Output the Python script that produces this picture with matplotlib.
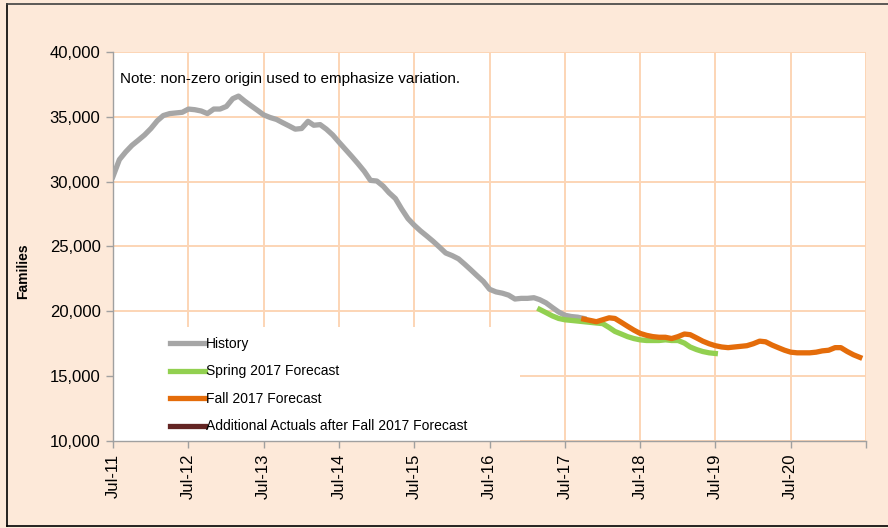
import numpy as np
import pandas as pd
import matplotlib
matplotlib.use("Agg")
import matplotlib.pyplot as plt
from matplotlib.patches import Rectangle
from matplotlib.lines import Line2D

plt.rcParams['font.family'] = ['Liberation Sans', 'DejaVu Sans']

# monthly caseload, Jul-2011 .. Oct-2017
history = [30400, 31700, 32300, 32800, 33200, 33600, 34100, 34700, 35100, 35250,
           35300, 35350, 35600, 35550, 35450, 35250, 35600, 35600, 35800, 36400,
           36600, 36200, 35850, 35500, 35150, 34950, 34800, 34550, 34300, 34050,
           34100, 34650, 34350, 34400, 34050, 33600, 33050, 32500, 31950, 31400,
           30800, 30100, 30050, 29650, 29150, 28700, 27900, 27150, 26650, 26200,
           25800, 25400, 24950, 24500, 24300, 24050, 23650, 23200, 22750, 22300,
           21700, 21500, 21400, 21250, 20950, 21000, 21000, 21050, 20900, 20650,
           20300, 19950, 19700, 19600, 19550, 19450]
history_start = "2011-07-01"

# Spring 2017 forecast, Mar-2017 .. Jul-2019
spring_2017 = [20150, 19900, 19650, 19450, 19350, 19300, 19250, 19200, 19150, 19100,
               19050, 18750, 18450, 18250, 18050, 17900, 17800, 17750, 17750, 17750,
               17800, 17750, 17750, 17550, 17250, 17050, 16900, 16800, 16750]
spring_start = "2017-03-01"

# Fall 2017 forecast, Oct-2017 .. Jun-2021
fall_2017 = [19400, 19300, 19200, 19350, 19500, 19450, 19150, 18850, 18550, 18300,
             18150, 18050, 18000, 18000, 17900, 18050, 18250, 18200, 17950, 17700,
             17500, 17350, 17250, 17200, 17250, 17300, 17350, 17500, 17700, 17650,
             17400, 17200, 17000, 16850, 16800, 16800, 16800, 16850, 16950, 17000,
             17200, 17200, 16900, 16650, 16450]
fall_start = "2017-10-01"

additional_actuals = []

labels = ["History", "Spring 2017 Forecast", "Fall 2017 Forecast",
          "Additional Actuals after Fall 2017 Forecast"]
colors = ["#A6A6A6", "#92D050", "#E46C0A", "#632523"]

bg = "#FDE9D9"
grid_c = "#FCD5B5"

fig = plt.figure(figsize=(8.88, 5.28), dpi=100, facecolor=bg)
ax = fig.add_axes([113/888, 1-441/528, 753/888, 389/528])
ax.set_facecolor("white")

h_dates = pd.date_range(history_start, periods=len(history), freq="MS")
s_dates = pd.date_range(spring_start, periods=len(spring_2017), freq="MS")
f_dates = pd.date_range(fall_start, periods=len(fall_2017), freq="MS")

lw = 3.8
ax.plot(h_dates, history, color=colors[0], lw=lw, label=labels[0], zorder=3,
        solid_joinstyle="round")
ax.plot(s_dates, spring_2017, color=colors[1], lw=lw, label=labels[1], zorder=3,
        solid_joinstyle="round")
ax.plot(f_dates, fall_2017, color=colors[2], lw=lw, label=labels[2], zorder=4,
        solid_joinstyle="round")
ax.plot(h_dates[:len(additional_actuals)], additional_actuals, color=colors[3],
        lw=lw, label=labels[3], zorder=5)

ax.set_xlim(pd.Timestamp("2011-07-01"), pd.Timestamp("2021-07-01"))
ax.set_ylim(10000, 40000)
ax.set_yticks(np.arange(10000, 40001, 5000))
ax.yaxis.set_major_formatter(matplotlib.ticker.FuncFormatter(lambda v, p: f"{int(v):,}"))

xt = pd.date_range("2011-07-01", "2021-07-01", freq="12MS")
ax.set_xticks(xt)
ax.set_xticklabels([d.strftime("%b-%y") for d in xt[:-1]] + [""], rotation=90)

ax.set_axisbelow(True)
ax.grid(True, color=grid_c, lw=1.4)
for s in ["top", "right"]:
    ax.spines[s].set_visible(False)
for s in ["left", "bottom"]:
    ax.spines[s].set_color("#A0A0A0")
    ax.spines[s].set_linewidth(1.0)
ax.tick_params(axis="both", colors="#A0A0A0", length=5, width=1.0, labelcolor="black")
ax.tick_params(axis="y", labelsize=12, pad=4)
ax.tick_params(axis="x", labelsize=12, pad=4)

# white block behind the legend hides the grid
ax.add_patch(Rectangle((0, 0), (520-113)/753, (441-327)/389, transform=ax.transAxes,
                       facecolor="white", edgecolor="none", zorder=1))

leg = ax.legend(loc="upper left", bbox_to_anchor=((170-113)/753, (441-337)/389),
                frameon=False, fontsize=10, handlelength=2.5, handletextpad=0.1,
                labelspacing=0.97, borderaxespad=0, borderpad=0)
for line in leg.get_lines():
    line.set_linewidth(3.8)

fig.text(120/888, 1-79/528, "Note: non-zero origin used to emphasize variation.",
         fontsize=11, va="center", ha="left")
fig.text(23/888, 1-271/528, "Families", rotation=90, fontsize=10, fontweight="bold",
         va="center", ha="center")

# outer frame
fig.add_artist(Line2D([7/888, 7/888], [2/528, 1-4/528], transform=fig.transFigure,
                      color="black", lw=1.2))
fig.add_artist(Line2D([7/888, 1], [1-4/528, 1-4/528], transform=fig.transFigure,
                      color="#404040", lw=1.2))
fig.add_artist(Line2D([7/888, 1], [2/528, 2/528], transform=fig.transFigure,
                      color="black", lw=1.2))

fig.savefig("out.png", dpi=100, facecolor=bg)
